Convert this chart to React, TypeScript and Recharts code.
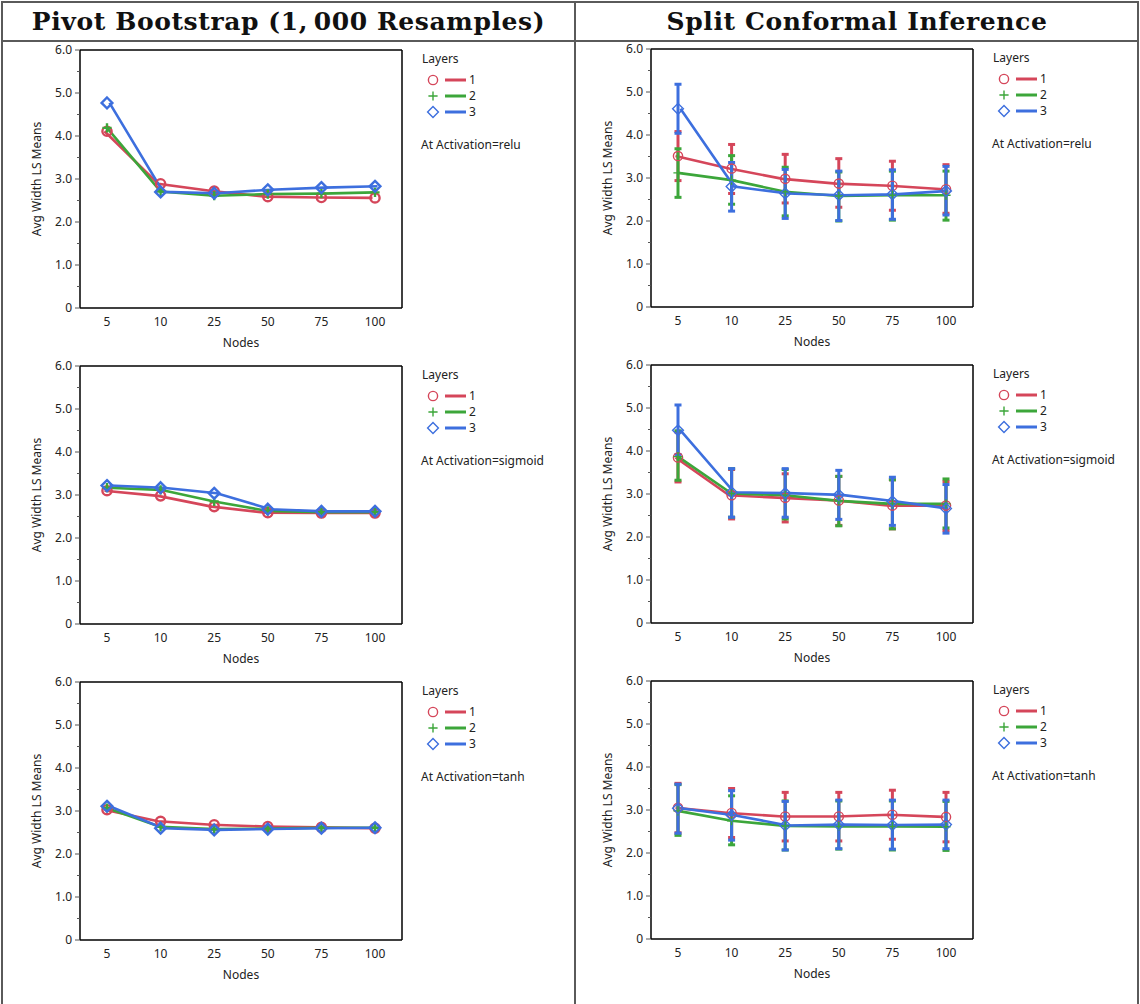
import React from 'react';
import { LineChart, Line, XAxis, YAxis, ErrorBar } from 'recharts';

// x categories (hidden-layer nodes) and the y scale
const nodes = ['5', '10', '25', '50', '75', '100'];
const layers = ['1', '2', '3'];
const activations = ['relu', 'sigmoid', 'tanh'];
const yTicks = [0, 0.5, 1, 1.5, 2, 2.5, 3, 3.5, 4, 4.5, 5, 5.5, 6];

// Pivot bootstrap: average interval width LS means
const bootReluL1 = [4.11, 2.89, 2.72, 2.59, 2.57, 2.56];
const bootReluL2 = [4.19, 2.71, 2.61, 2.65, 2.66, 2.69];
const bootReluL3 = [4.77, 2.70, 2.67, 2.75, 2.80, 2.83];
const bootSigmoidL1 = [3.10, 2.98, 2.73, 2.59, 2.58, 2.58];
const bootSigmoidL2 = [3.17, 3.12, 2.85, 2.63, 2.60, 2.60];
const bootSigmoidL3 = [3.22, 3.17, 3.04, 2.67, 2.62, 2.62];
const bootTanhL1 = [3.03, 2.76, 2.68, 2.64, 2.62, 2.60];
const bootTanhL2 = [3.07, 2.63, 2.58, 2.59, 2.61, 2.61];
const bootTanhL3 = [3.11, 2.60, 2.56, 2.58, 2.60, 2.61];

// Split conformal: LS means with lower / upper confidence limits
const confReluL1 = [3.51, 3.22, 2.98, 2.87, 2.82, 2.74];
const confReluL1Lo = [2.94, 2.64, 2.42, 2.32, 2.25, 2.18];
const confReluL1Hi = [4.08, 3.78, 3.55, 3.45, 3.39, 3.31];
const confReluL2 = [3.12, 2.95, 2.68, 2.58, 2.60, 2.60];
const confReluL2Lo = [2.55, 2.39, 2.12, 2.00, 2.02, 2.02];
const confReluL2Hi = [3.68, 3.52, 3.25, 3.14, 3.16, 3.16];
const confReluL3 = [4.61, 2.80, 2.64, 2.60, 2.62, 2.70];
const confReluL3Lo = [4.04, 2.23, 2.06, 2.01, 2.04, 2.14];
const confReluL3Hi = [5.18, 3.36, 3.20, 3.16, 3.19, 3.27];

const confSigmoidL1 = [3.85, 2.97, 2.91, 2.85, 2.73, 2.73];
const confSigmoidL1Lo = [3.28, 2.42, 2.35, 2.27, 2.19, 2.15];
const confSigmoidL1Hi = [4.44, 3.57, 3.47, 3.41, 3.33, 3.29];
const confSigmoidL2 = [3.87, 3.01, 2.97, 2.84, 2.77, 2.77];
const confSigmoidL2Lo = [3.32, 2.46, 2.42, 2.26, 2.19, 2.21];
const confSigmoidL2Hi = [4.47, 3.59, 3.57, 3.41, 3.33, 3.35];
const confSigmoidL3 = [4.48, 3.04, 3.02, 2.98, 2.83, 2.66];
const confSigmoidL3Lo = [3.92, 2.46, 2.46, 2.41, 2.27, 2.09];
const confSigmoidL3Hi = [5.07, 3.59, 3.59, 3.55, 3.39, 3.22];

const confTanhL1 = [3.05, 2.93, 2.85, 2.85, 2.89, 2.84];
const confTanhL1Lo = [2.47, 2.36, 2.28, 2.28, 2.32, 2.26];
const confTanhL1Hi = [3.62, 3.50, 3.41, 3.41, 3.46, 3.41];
const confTanhL2 = [2.98, 2.75, 2.63, 2.62, 2.62, 2.61];
const confTanhL2Lo = [2.41, 2.19, 2.07, 2.09, 2.07, 2.06];
const confTanhL2Hi = [3.59, 3.33, 3.21, 3.21, 3.21, 3.20];
const confTanhL3 = [3.04, 2.88, 2.64, 2.66, 2.65, 2.66];
const confTanhL3Lo = [2.46, 2.30, 2.07, 2.10, 2.09, 2.10];
const confTanhL3Hi = [3.60, 3.45, 3.20, 3.23, 3.23, 3.23];

const layerColors = ['#d5465a', '#3ca63a', '#3d6fde'];
const FONT = '"Noto Sans", sans-serif';
const TICK_SIZE = 5;
const TICK_MARGIN = 3;

type Series = { mean: number[]; lo?: number[]; hi?: number[] };

const bootPanels: Series[][] = [
  [{ mean: bootReluL1 }, { mean: bootReluL2 }, { mean: bootReluL3 }],
  [{ mean: bootSigmoidL1 }, { mean: bootSigmoidL2 }, { mean: bootSigmoidL3 }],
  [{ mean: bootTanhL1 }, { mean: bootTanhL2 }, { mean: bootTanhL3 }],
];

const confPanels: Series[][] = [
  [
    { mean: confReluL1, lo: confReluL1Lo, hi: confReluL1Hi },
    { mean: confReluL2, lo: confReluL2Lo, hi: confReluL2Hi },
    { mean: confReluL3, lo: confReluL3Lo, hi: confReluL3Hi },
  ],
  [
    { mean: confSigmoidL1, lo: confSigmoidL1Lo, hi: confSigmoidL1Hi },
    { mean: confSigmoidL2, lo: confSigmoidL2Lo, hi: confSigmoidL2Hi },
    { mean: confSigmoidL3, lo: confSigmoidL3Lo, hi: confSigmoidL3Hi },
  ],
  [
    { mean: confTanhL1, lo: confTanhL1Lo, hi: confTanhL1Hi },
    { mean: confTanhL2, lo: confTanhL2Lo, hi: confTanhL2Hi },
    { mean: confTanhL3, lo: confTanhL3Lo, hi: confTanhL3Hi },
  ],
];

function buildRows(series: Series[]) {
  return nodes.map((node, i) => {
    const row: Record<string, any> = { node };
    series.forEach((s, k) => {
      row[`s${k}`] = s.mean[i];
      if (s.lo && s.hi) {
        row[`e${k}`] = [+(s.mean[i] - s.lo[i]).toFixed(3), +(s.hi[i] - s.mean[i]).toFixed(3)];
      }
    });
    return row;
  });
}

// marker shapes per layer: circle, plus, diamond
function markerShape(k: number, cx: number, cy: number, bold: boolean, key?: any) {
  const c = layerColors[k];
  const sw = bold ? 2.4 : 1.4;
  if (k === 0) {
    return <circle key={key} cx={cx} cy={cy} r={4.6} fill="none" stroke={c} strokeWidth={sw} />;
  }
  if (k === 1) {
    const s = 4.6;
    return <path key={key} d={`M${cx - s},${cy}H${cx + s}M${cx},${cy - s}V${cy + s}`} fill="none" stroke={c} strokeWidth={sw} />;
  }
  const s = 5.4;
  return (
    <path
      key={key}
      d={`M${cx},${cy - s}L${cx + s},${cy}L${cx},${cy + s}L${cx - s},${cy}Z`}
      fill="none"
      stroke={c}
      strokeWidth={sw}
    />
  );
}

const makeDot = (k: number, bold: boolean) => (p: any) => {
  const { cx, cy, index } = p;
  if (cx == null || cy == null) return <g key={`d-${k}-${index}`} />;
  return markerShape(k, cx, cy, bold, `d-${k}-${index}`);
};

const YTick = (props: any) => {
  const { x, y, payload } = props;
  const v = payload.value as number;
  const major = Number.isInteger(v);
  const axisX = x + TICK_SIZE + TICK_MARGIN;
  return (
    <g>
      <line x1={axisX - (major ? TICK_SIZE : 3)} x2={axisX} y1={y} y2={y} stroke="#555" strokeWidth={1} />
      {major && (
        <text x={x} y={y} dy={4} textAnchor="end" fontSize={12} fill="#222" fontFamily={FONT}>
          {v === 0 ? '0' : v.toFixed(1)}
        </text>
      )}
    </g>
  );
};

const frameLine = { stroke: '#000', strokeWidth: 1.5 };

function Panel({ series, bold }: { series: Series[]; bold: boolean }) {
  const rows = buildRows(series);
  return (
    <LineChart width={405} height={316} data={rows} margin={{ top: 7, right: 2, bottom: 5, left: 0 }}>
      <XAxis
        dataKey="node"
        interval={0}
        padding={{ left: 27, right: 27 }}
        tickLine={false}
        tickSize={0}
        tickMargin={9}
        height={45}
        axisLine={frameLine}
        tick={{ fontSize: 12, fill: '#222', fontFamily: FONT }}
        label={{ value: 'Nodes', position: 'insideBottom', offset: 6, fontSize: 12, fill: '#222', fontFamily: FONT }}
      />
      {/* top and right edges of the plot frame */}
      <XAxis xAxisId="top" dataKey="node" orientation="top" height={1} tick={false} tickLine={false} axisLine={frameLine} />
      <YAxis
        domain={[0, 6]}
        ticks={yTicks}
        interval={0}
        width={80}
        tickSize={TICK_SIZE}
        tickMargin={TICK_MARGIN}
        tickLine={false}
        tick={<YTick />}
        axisLine={frameLine}
        label={{
          value: 'Avg Width LS Means',
          angle: -90,
          position: 'insideLeft',
          offset: 37,
          style: { textAnchor: 'middle', fontSize: 12, fill: '#222', fontFamily: FONT },
        }}
      />
      <YAxis yAxisId="right" orientation="right" domain={[0, 6]} width={1} tick={false} tickLine={false} axisLine={frameLine} />
      {series.map((s, k) => (
        <Line
          key={k}
          className={`layer-shift-${k}`}
          type="linear"
          dataKey={`s${k}`}
          stroke={layerColors[k]}
          strokeWidth={2.6}
          dot={makeDot(k, bold)}
          activeDot={false}
          isAnimationActive={false}
        >
          {s.lo && (
            <ErrorBar dataKey={`e${k}`} direction="y" width={3.5} stroke={layerColors[k]} strokeWidth={3} />
          )}
        </Line>
      ))}
    </LineChart>
  );
}

function LegendBox({ activation }: { activation: string }) {
  return (
    <svg width={150} height={115} style={{ display: 'block' }} fontFamily={FONT} fontSize={12}>
      <text x={2} y={21} fill="#222">Layers</text>
      {layers.map((name, k) => {
        const y = 38 + k * 16;
        return (
          <g key={name}>
            {markerShape(k, 13, y, false)}
            <line x1={25} x2={46} y1={y} y2={y} stroke={layerColors[k]} strokeWidth={3} />
            <text x={49} y={y + 4} fill="#222">{name}</text>
          </g>
        );
      })}
      <text x={1} y={107} fill="#222">{`At Activation=${activation}`}</text>
    </svg>
  );
}

const ROW_TOPS = [42, 358, 674];
const COL_LEFTS = [0, 571];

const titleStyle: React.CSSProperties = {
  position: 'absolute',
  top: 2,
  height: 39,
  display: 'flex',
  alignItems: 'center',
  justifyContent: 'center',
  fontFamily: '"DejaVu Serif", serif',
  fontWeight: 'bold',
  fontSize: 25,
  letterSpacing: 0.6,
  color: '#111',
  whiteSpace: 'nowrap',
};

export default function App() {
  const columns = [bootPanels, confPanels];
  return (
    <div style={{ position: 'relative', width: 1140, height: 1004, overflow: 'hidden', background: '#fff' }}>
      <style>{`
        body { margin: 0; }
        .layer-shift-0 { transform: translateX(-2.5px); }
        .layer-shift-2 { transform: translateX(2.5px); }
      `}</style>
      {/* table rules */}
      <div style={{ position: 'absolute', left: 1, top: 1, width: 1138, height: 1020, border: '2px solid #5a5a5a', boxSizing: 'border-box' }} />
      <div style={{ position: 'absolute', left: 1, top: 40, width: 1138, height: 2, background: '#5a5a5a' }} />
      <div style={{ position: 'absolute', left: 574, top: 1, width: 2, height: 1010, background: '#5a5a5a' }} />
      <div style={{ ...titleStyle, left: 3, width: 571 }}>Pivot Bootstrap (1,&#8201;000 Resamples)</div>
      <div style={{ ...titleStyle, left: 576, width: 562 }}>Split Conformal Inference</div>
      {columns.map((panels, c) =>
        panels.map((series, r) => (
          <div key={`${c}-${r}`} style={{ position: 'absolute', left: COL_LEFTS[c], top: ROW_TOPS[r] - c }}>
            <Panel series={series} bold={c === 0} />
            <div style={{ position: 'absolute', left: 420, top: 0 }}>
              <LegendBox activation={activations[r]} />
            </div>
          </div>
        ))
      )}
    </div>
  );
}
